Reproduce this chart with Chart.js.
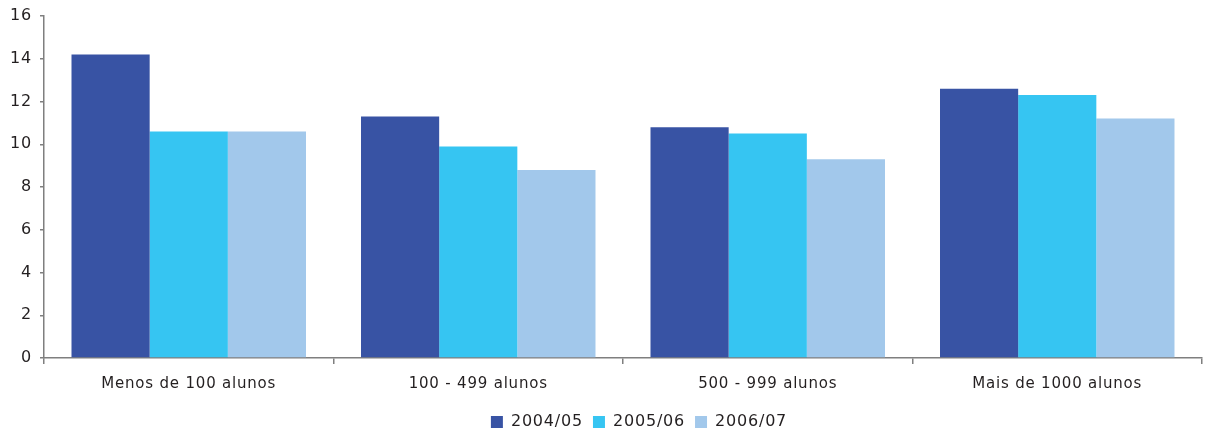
<!DOCTYPE html>
<html>
<head>
<meta charset="utf-8">
<script src="https://cdn.jsdelivr.net/npm/chart.js@4"></script>
<style>
  html, body { margin: 0; padding: 0; background: #fff; }
  #wrap { width: 1205px; height: 432px; }
</style>
</head>
<body>
<div id="wrap"><canvas id="chart-alunos" width="1205" height="432"></canvas></div>
<script>
var categories = ['Menos de 100 alunos', '100 - 499 alunos', '500 - 999 alunos', 'Mais de 1000 alunos'];
var seriesNames = ['2004/05', '2005/06', '2006/07'];
var values2004 = [14.2, 11.3, 10.8, 12.6];
var values2005 = [10.6, 9.9, 10.5, 12.3];
var values2006 = [10.6, 8.8, 9.3, 11.2];
var colors = ['#3853a4', '#36c5f2', '#a2c8eb'];

Chart.defaults.font.family = "'DejaVu Sans', sans-serif";
Chart.defaults.color = '#231f20';

// the original text is set a bit wider than DejaVu
var spacingPlugin = {
    id: 'spacing',
    beforeInit: function (chart) { chart.ctx.letterSpacing = '0.8px'; },
    beforeUpdate: function (chart) { chart.ctx.letterSpacing = '0.8px'; },
    // legend sits a little right of the canvas centre in the original
    afterLayout: function (chart) {
        chart.legend.left += 38;
        chart.legend.right += 38;
    }
};

const ctx = document.getElementById('chart-alunos').getContext('2d');
var chartData = {
    labels: categories,
    datasets: [values2004, values2005, values2006].map(function (vals, i) {
        return {
            label: seriesNames[i],
            data: vals,
            backgroundColor: colors[i],
            borderWidth: 0,
            categoryPercentage: 0.81,
            barPercentage: 1.0
        };
    })
};

new Chart(ctx, {
    type: 'bar',
    data: chartData,
    plugins: [spacingPlugin],
    options: {
        responsive: false,
        animation: false,
        layout: { padding: { top: 0, right: 3, left: 0, bottom: -8 } },
        plugins: {
            tooltip: { enabled: false },
            legend: {
                position: 'bottom',
                labels: {
                    boxWidth: 12,
                    boxHeight: 12,
                    padding: 10,
                    font: { size: 16 },
                    color: '#231f20'
                }
            }
        },
        scales: {
            y: {
                min: 0,
                max: 16,
                ticks: { stepSize: 2, font: { size: 16, lineHeight: 1 }, padding: 8 },
                border: { color: '#7f7f7f', width: 1.5 },
                grid: { drawOnChartArea: false, tickLength: 4, color: '#7f7f7f', lineWidth: 1.5 },
                afterFit: function (scale) { scale.width = 44; }
            },
            x: {
                ticks: { font: { size: 15 }, padding: 11 },
                border: { color: '#7f7f7f', width: 1.5 },
                grid: { drawOnChartArea: false, tickLength: 6, color: '#7f7f7f', lineWidth: 1.5, offset: true }
            }
        }
    }
});
</script>
</body>
</html>
